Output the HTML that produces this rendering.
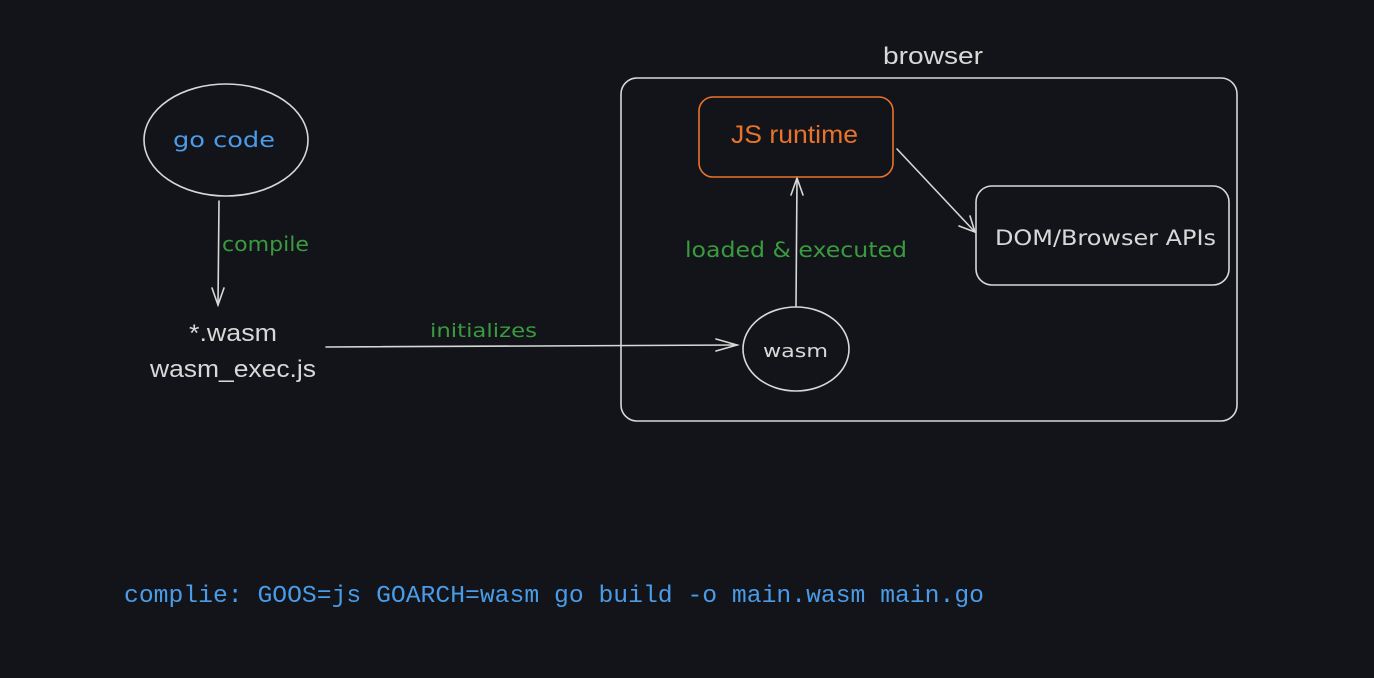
<!DOCTYPE html>
<html><head><meta charset="utf-8"><style>
html,body{margin:0;padding:0;background:#121419;width:1374px;height:678px;overflow:hidden}
</style></head><body>
<svg width="1374" height="678" viewBox="0 0 1374 678" xmlns="http://www.w3.org/2000/svg">
<rect width="1374" height="678" fill="#121419"/>
<g fill="none" stroke="#d8d8d8" stroke-width="1.6" stroke-linecap="round">
<ellipse cx="226" cy="140" rx="82" ry="56"/>
<line x1="219" y1="201" x2="218" y2="305"/>
<polyline points="212,288 218,305 224,288"/>
<line x1="326" y1="347" x2="737" y2="345"/>
<polyline points="716,339 737,345 716,351"/>
<rect x="621" y="78" width="616" height="343" rx="16"/>
<ellipse cx="796" cy="349" rx="53" ry="42"/>
<line x1="796" y1="306" x2="797" y2="178"/>
<polyline points="791,195 797,178 803,195"/>
<line x1="897" y1="149" x2="975" y2="232"/>
<polyline points="959,226 975,232 970,216"/>
<rect x="976" y="186" width="253" height="99" rx="16"/>
</g>
<rect x="699" y="97" width="194" height="80" rx="14" fill="none" stroke="#e9732c" stroke-width="1.6"/>
<g font-family="'Liberation Sans',sans-serif" lengthAdjust="spacingAndGlyphs">
<text x="883" y="64" font-size="24" fill="#d8d8d8" textLength="100" lengthAdjust="spacingAndGlyphs">browser</text>
<text x="189" y="341" font-size="24" fill="#d8d8d8" textLength="88" lengthAdjust="spacingAndGlyphs">*.wasm</text>
<text x="150" y="377" font-size="24" fill="#d8d8d8" textLength="166" lengthAdjust="spacingAndGlyphs">wasm_exec.js</text>
<text x="731" y="143" font-size="25" fill="#e9732c" textLength="127" lengthAdjust="spacingAndGlyphs">JS runtime</text>
</g>
<g font-family="'DejaVu Sans',sans-serif">
<text x="173" y="147" font-size="21" fill="#4a9be8" textLength="102" lengthAdjust="spacingAndGlyphs">go code</text>
<text x="222" y="251" font-size="20" fill="#3a9a3f" textLength="87" lengthAdjust="spacingAndGlyphs">compile</text>
<text x="430" y="337" font-size="19" fill="#3a9a3f" textLength="107" lengthAdjust="spacingAndGlyphs">initializes</text>
<text x="685" y="257" font-size="21" fill="#3a9a3f" textLength="222" lengthAdjust="spacingAndGlyphs">loaded &amp; executed</text>
<text x="763" y="357" font-size="18" fill="#d8d8d8" textLength="65" lengthAdjust="spacingAndGlyphs">wasm</text>
<text x="995" y="245" font-size="21" fill="#d8d8d8" textLength="221" lengthAdjust="spacingAndGlyphs">DOM/Browser APIs</text>
</g>
<text x="124" y="602" font-family="'Liberation Mono',monospace" font-size="24" fill="#4a9be8" textLength="860" lengthAdjust="spacingAndGlyphs">complie: GOOS=js GOARCH=wasm go build -o main.wasm main.go</text>
</svg>
</body></html>
